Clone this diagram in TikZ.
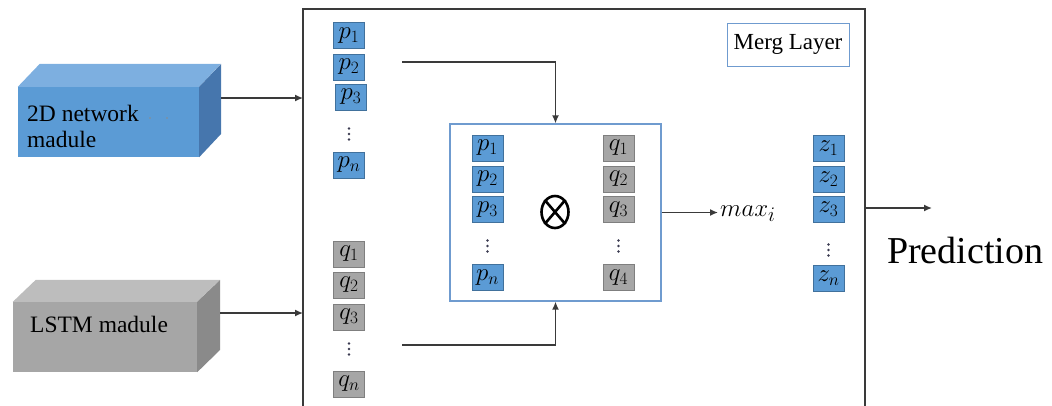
\documentclass[tikz,border=0pt]{standalone}
\usepackage{fontspec}
\setmainfont{Liberation Serif}
\usetikzlibrary{arrows.meta,shapes.geometric}
\definecolor{bfront}{HTML}{5B9BD5}
\definecolor{btop}{HTML}{7DAFE0}
\definecolor{bside}{HTML}{4676AD}
\definecolor{gfront}{HTML}{A6A6A6}
\definecolor{gtop}{HTML}{BDBDBD}
\definecolor{gside}{HTML}{8A8A8A}
\definecolor{pborder}{HTML}{41719C}
\definecolor{qborder}{HTML}{7F7F7F}
\definecolor{lineclr}{HTML}{3A3A3A}
\definecolor{frameblue}{HTML}{6F9BCF}
\definecolor{dotclr}{HTML}{3A3A50}
\tikzset{
  pbox/.style={fill=bfront,draw=pborder,line width=0.6pt,minimum width=31pt,minimum height=26pt,inner sep=0pt,font=\fontsize{26}{28}\selectfont},
  qbox/.style={pbox,fill=gfront,draw=qborder},
  arr/.style={draw=lineclr,line width=1.4pt,-{Latex[length=8pt,width=7pt]}},
  cubetxt/.style={font=\rmfamily\fontsize{23.5}{26}\selectfont,inner sep=0pt,anchor=base west,text=black},
}
\newcommand{\dotcol}[3]{%
  \coordinate (#1) at (#2,#3);
  \fill[dotclr] (#1) ++(0,-5.5) circle (1.3pt) (#1) circle (1.3pt) (#1) ++(0,5.5) circle (1.3pt);}
\begin{document}
\begin{tikzpicture}[x=1pt,y=-1pt]
\useasboundingbox (0,0) rectangle (1052,405);
% 2D network cube
\node[fill=bfront,minimum width=181pt,minimum height=70pt,inner sep=0pt] (net) at (108.5,122) {};
\fill[btop] (net.north west) -- ++(22,-23) -- ++(181,0) -- (net.north east) -- cycle;
\fill[bside] (net.north east) -- ++(22,-23) -- ++(0,70) -- (net.south east) -- cycle;
\node[cubetxt] (nett1) at (27,121) {2D network};
\node[cubetxt] (nett2) at (27,147) {madule};
\fill[black!45] (150,118) circle (0.9pt) (167,118) circle (0.9pt);
\coordinate (netout) at (221,98);
% LSTM cube
\node[fill=gfront,minimum width=184pt,minimum height=70pt,inner sep=0pt] (lstm) at (105,337) {};
\fill[gtop] (lstm.north west) -- ++(23,-22) -- ++(184,0) -- (lstm.north east) -- cycle;
\fill[gside] (lstm.north east) -- ++(23,-22) -- ++(0,70) -- (lstm.south east) -- cycle;
\node[cubetxt] (lstmt) at (30,332) {LSTM madule};
\coordinate (lstmout) at (220,313);
% outer merge frame
\coordinate (fbl) at (303,406);
\coordinate (ftl) at (303,9);
\coordinate (ftr) at (865,9);
\coordinate (fbr) at (865,406);
\draw[lineclr,line width=1.3pt] (fbl) -- (ftl) -- (ftr) -- (fbr);
\coordinate (in1) at (303,98);
\coordinate (in2) at (303,313);
\draw[arr] (netout) -- (in1);
\draw[arr] (lstmout) -- (in2);
% Merg Layer label
\node[draw=frameblue,line width=1pt,minimum width=122pt,minimum height=43pt,inner sep=0pt,font=\fontsize{23}{25}\selectfont] (merg) at (788,44.5) {Merg Layer};
% outer p column
\node[pbox] (p1) at (349,35.5) {$p_1$};
\node[pbox] (p2) at (349,67) {$p_2$};
\node[pbox] (p3) at (351,97) {$p_3$};
\dotcol{pd}{349}{134}
\node[pbox] (pn) at (349,165) {$p_n$};
% outer q column
\node[qbox] (q1) at (349,254) {$q_1$};
\node[qbox] (q2) at (349,285) {$q_2$};
\node[qbox] (q3) at (349,317) {$q_3$};
\dotcol{qd}{349}{349}
\node[qbox] (qn) at (349,384) {$q_n$};
% inner box
\node[draw=frameblue,line width=1.3pt,minimum width=211pt,minimum height=177pt,inner sep=0pt] (inner) at (555.5,212.5) {};
\node[pbox] (ip1) at (487.5,148) {$p_1$};
\node[pbox] (ip2) at (487.5,179) {$p_2$};
\node[pbox] (ip3) at (487.5,209.5) {$p_3$};
\dotcol{ipd}{487.5}{246}
\node[pbox] (ipn) at (487.5,277.5) {$p_n$};
\node[qbox] (iq1) at (618.5,148) {$q_1$};
\node[qbox] (iq2) at (618.5,179) {$q_2$};
\node[qbox] (iq3) at (618.5,209.5) {$q_3$};
\dotcol{iqd}{618.5}{246}
\node[qbox] (iq4) at (618.5,277.5) {$q_4$};
\node[draw=black,line width=2.6pt,ellipse,minimum width=27pt,minimum height=32pt,inner sep=0pt] (ot) at (555,212) {};
\draw[black,line width=2.6pt] (ot.north east) -- (ot.south west) (ot.north west) -- (ot.south east);
% connectors into inner box
\coordinate (pout) at (402,62);
\coordinate (qout) at (402,345);
\draw[arr] (pout) -| (inner.north);
\draw[arr] (qout) -| (inner.south);
% max
\node[anchor=west,inner sep=2pt,font=\fontsize{28}{30}\selectfont] (max) at (718,214) {$max_i$};
\draw[arr] (inner.east) -- (max.west |- inner.east);
% z column
\node[pbox] (z1) at (828.5,148) {$z_1$};
\node[pbox] (z2) at (828.5,179) {$z_2$};
\node[pbox] (z3) at (828.5,209.5) {$z_3$};
\dotcol{zd}{828.5}{250}
\node[pbox] (zn) at (828.5,278) {$z_n$};
% prediction
\coordinate (fout) at (865,208);
\coordinate (pend) at (932,208);
\draw[arr] (fout) -- (pend);
\node[anchor=base west,inner sep=0pt,font=\fontsize{38}{44}\selectfont] (pred) at (887,263) {Prediction};
\end{tikzpicture}
\end{document}
